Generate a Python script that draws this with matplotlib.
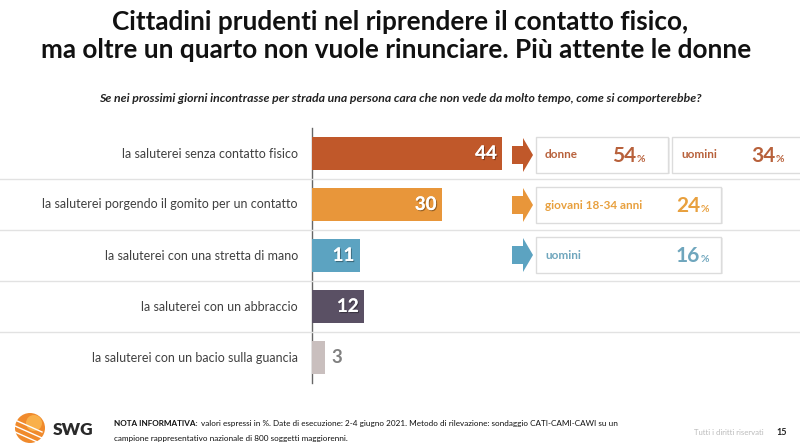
import matplotlib
matplotlib.use("Agg")
import matplotlib.pyplot as plt
from matplotlib.patches import Rectangle, Polygon, Circle
from matplotlib.lines import Line2D
import matplotlib.patheffects as pe
import matplotlib.transforms as mtransforms

plt.rcParams['font.family'] = ['Lato', 'DejaVu Sans']

title = "Cittadini prudenti nel riprendere il contatto fisico,\nma oltre un quarto non vuole rinunciare. Più attente le donne"
subtitle = "Se nei prossimi giorni incontrasse per strada una persona cara che non vede da molto tempo, come si comporterebbe?"
categories = [
    "la saluterei senza contatto fisico",
    "la saluterei porgendo il gomito per un contatto",
    "la saluterei con una stretta di mano",
    "la saluterei con un abbraccio",
    "la saluterei con un bacio sulla guancia",
]
values = [44, 30, 11, 12, 3]
bar_colors = ["#C0582A", "#E8963A", "#5CA3C1", "#5A5064", "#C9BFBE"]

# callouts: (row, label, value)
callout_rows = [0, 0, 1, 2]
callout_labels = ["donne", "uomini", "giovani 18-34 anni", "uomini"]
callout_values = [54, 34, 24, 16]
callout_colors = ["#B8613B", "#B8613B", "#E8A03E", "#6FA6BD"]

W, H = 800, 448
fig = plt.figure(figsize=(W / 100, H / 100), dpi=100)
fig.patch.set_facecolor("white")

def fx(x):
    return x / W

def fy(y):
    return 1 - y / H

ax_top, ax_bot, ax_left = 128, 383, 312
ax = fig.add_axes([fx(ax_left), fy(ax_bot), 1 - fx(ax_left), (ax_bot - ax_top) / H])
ypos = list(range(len(categories)))
ax.barh(ypos, values, height=0.63, color=bar_colors, zorder=3)
ax.set_xlim(0, (W - ax_left) / 4.32)
ax.set_ylim(len(categories) - 0.5, -0.5)
ax.set_xticks([])
ax.set_yticks([])
for s in ["top", "right", "bottom"]:
    ax.spines[s].set_visible(False)
ax.spines["left"].set_color("#666666")
ax.spines["left"].set_linewidth(1.0)
ax.set_facecolor("none")

# row separators across full width
blend = mtransforms.blended_transform_factory(fig.transFigure, ax.transData)
for i in range(len(categories) - 1):
    fig.add_artist(Line2D([0, 1], [i + 0.5, i + 0.5], transform=blend,
                          color="#E2E2E2", lw=1.0, zorder=1))

# category labels
for i, c in enumerate(categories):
    ax.text(-14 / 4.32, i, c, ha="right", va="center", fontsize=9.0,
            color="#404040", clip_on=False)

# value labels
shadow = [pe.withSimplePatchShadow(offset=(0.8, -0.8), shadow_rgbFace="#000000", alpha=0.35), pe.Normal()]
for i, v in enumerate(values):
    if v >= 10:
        ax.text(v - 1.2, i, str(v), ha="right", va="center", fontsize=13.5,
                fontweight="bold", color="white", path_effects=shadow, zorder=4)
    else:
        ax.text(v + 1.5, i, str(v), ha="left", va="center", fontsize=13.5,
                fontweight="bold", color="#808080", zorder=4)

# pixel transform (origin top-left)
pix = mtransforms.Affine2D().scale(1 / W, -1 / H).translate(0, 1) + fig.transFigure

row_centers = [155, 205, 255]
arrow_rows = sorted(set(callout_rows))
for r in arrow_rows:
    cy = row_centers[r]
    pts = [(512, cy - 9), (523, cy - 9), (523, cy - 17), (533, cy),
           (523, cy + 17), (523, cy + 9), (512, cy + 9)]
    fig.add_artist(Polygon(pts, closed=True, transform=pix, facecolor=bar_colors[r],
                           edgecolor="none", zorder=5))

box_geom = [(536, 668), (672, 812), (536, 721), (536, 721)]
num_right = [636, 775, 700, 700]
for k, r in enumerate(callout_rows):
    x0, x1 = box_geom[k]
    cy = row_centers[r]
    y0, y1 = cy - 18, cy + 18
    fig.add_artist(Rectangle((x0 + 1.5, y0 + 1.5), x1 - x0, y1 - y0, transform=pix,
                             facecolor="#EEEEEE", edgecolor="none", zorder=4))
    fig.add_artist(Rectangle((x0, y0), x1 - x0, y1 - y0, transform=pix,
                             facecolor="white", edgecolor="#DCDCDC", lw=1.0, zorder=5))
    col = callout_colors[k]
    fig.text(fx(x0 + 9), fy(cy), callout_labels[k], ha="left", va="center",
             fontsize=8.5, fontweight="bold", color=col, zorder=6)
    numx = num_right[k]
    fig.text(fx(numx), fy(cy + 1), str(callout_values[k]), ha="right", va="center",
             fontsize=15, fontweight="bold", color=col, zorder=6)
    fig.text(fx(numx + 0.5), fy(cy + 4), "%", ha="left", va="center",
             fontsize=7.5, fontweight="bold", color=col, zorder=6)

# titles
fig.text(0.5, fy(22), "Cittadini prudenti nel riprendere il contatto fisico,", ha="center",
         va="center", fontsize=18.8, fontweight="bold", color="#111111")
fig.text(0.495, fy(50), "ma oltre un quarto non vuole rinunciare. Più attente le donne", ha="center",
         va="center", fontsize=18.8, fontweight="bold", color="#111111")
fig.text(0.5, fy(99), subtitle, ha="center", va="center", fontsize=8.85,
         fontstyle="italic", fontweight="bold", color="#222222")

# footer logo
logo_cx, logo_cy, logo_r = 30, 428, 15
fig.add_artist(Circle((logo_cx, logo_cy), logo_r, transform=pix, facecolor="#F08A2C",
                      edgecolor="none", zorder=5))
fig.add_artist(Circle((logo_cx + 4, logo_cy - 5), 8, transform=pix, facecolor="#F9B04A",
                      edgecolor="none", zorder=6))
for dy in (-2, 4, 10):
    fig.add_artist(Line2D([logo_cx - 15, logo_cx + 12], [logo_cy + dy - 6, logo_cy + dy + 6],
                          transform=pix, color="white", lw=1.0, zorder=7))
fig.text(fx(53), fy(430), "SWG", ha="left", va="center", fontsize=12.5,
         fontweight="heavy", color="#2A2A2A")

note_fs = 5.9
t_bold = fig.text(fx(114), fy(423), "NOTA INFORMATIVA:", ha="left", va="center",
                  fontsize=note_fs, fontweight="bold", color="#111111")
fig.canvas.draw()
bb = t_bold.get_window_extent(renderer=fig.canvas.get_renderer())
fig.text(fx(bb.x1 + 3), fy(423), "valori espressi in %. Date di esecuzione: 2-4 giugno 2021. Metodo di rilevazione: sondaggio CATI-CAMI-CAWI su un",
         ha="left", va="center", fontsize=note_fs, color="#111111")
fig.text(fx(114), fy(438), "campione rappresentativo nazionale di 800 soggetti maggiorenni.",
         ha="left", va="center", fontsize=note_fs, color="#111111")
fig.text(fx(764), fy(432), "Tutti i diritti riservati", ha="right", va="center", fontsize=5.6,
         color="#BBBBBB")
fig.text(fx(776), fy(432), "15", ha="left", va="center", fontsize=6.5,
         fontweight="bold", color="#222222")

fig.savefig("out.png", dpi=100, facecolor="white")
